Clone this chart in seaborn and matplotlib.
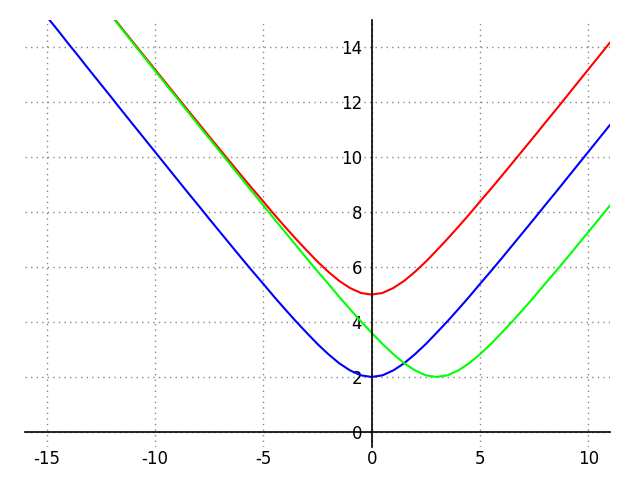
import seaborn as sns
import matplotlib
matplotlib.use("Agg")
import matplotlib.pyplot as plt
import pandas as pd

# x positions (step 0.5) and the three curves
x = [-15, -14.5, -14, -13.5, -13, -12.5, -12, -11.5, -11, -10.5, -10, -9.5, -9, -8.5,
     -8, -7.5, -7, -6.5, -6, -5.5, -5, -4.5, -4, -3.5, -3, -2.5, -2, -1.5, -1, -0.5,
     0, 0.5, 1, 1.5, 2, 2.5, 3, 3.5, 4, 4.5, 5, 5.5, 6, 6.5, 7, 7.5, 8, 8.5, 9, 9.5,
     10, 10.5, 11]

blue = [15.13, 14.64, 14.14, 13.65, 13.15, 12.66, 12.17, 11.67, 11.18, 10.69, 10.20,
        9.71, 9.22, 8.73, 8.25, 7.76, 7.28, 6.80, 6.32, 5.85, 5.39, 4.92, 4.47, 4.03,
        3.61, 3.20, 2.83, 2.50, 2.24, 2.06, 2.00, 2.06, 2.24, 2.50, 2.83, 3.20, 3.61,
        4.03, 4.47, 4.92, 5.39, 5.85, 6.32, 6.80, 7.28, 7.76, 8.25, 8.73, 9.22, 9.71,
        10.20, 10.69, 11.18]

red = [18.13, 17.64, 17.14, 16.65, 16.15, 15.66, 15.17, 14.67, 14.18, 13.69, 13.20,
       12.71, 12.22, 11.73, 11.25, 10.76, 10.28, 9.80, 9.32, 8.85, 8.39, 7.92, 7.47, 7.03,
       6.61, 6.20, 5.83, 5.50, 5.24, 5.06, 5.00, 5.06, 5.24, 5.50, 5.83, 6.20, 6.61,
       7.03, 7.47, 7.92, 8.39, 8.85, 9.32, 9.80, 10.28, 10.76, 11.25, 11.73, 12.22, 12.71,
       13.20, 13.69, 14.18]

green = [18.11, 17.61, 17.12, 16.62, 16.12, 15.63, 15.13, 14.64, 14.14, 13.65, 13.15,
         12.66, 12.17, 11.67, 11.18, 10.69, 10.20, 9.71, 9.22, 8.73, 8.25, 7.76, 7.28,
         6.80, 6.32, 5.85, 5.39, 4.92, 4.47, 4.03, 3.61, 3.20, 2.83, 2.50, 2.24, 2.06,
         2.00, 2.06, 2.24, 2.50, 2.83, 3.20, 3.61, 4.03, 4.47, 4.92, 5.39, 5.85, 6.32,
         6.80, 7.28, 7.76, 8.25]

xticks = [-15, -10, -5, 0, 5, 10]
yticks = [0, 2, 4, 6, 8, 10, 12, 14]

sns.set_style("white")
plt.rcParams['font.family'] = ['DejaVu Sans']

df = pd.DataFrame({"x": x, "blue": blue, "red": red, "green": green})

fig = plt.figure(figsize=(6.4, 4.8), dpi=100)
ax = fig.add_axes([25 / 640, 1 - 447 / 480, 585 / 640, 427 / 480])

sns.lineplot(data=df, x="x", y="blue", color="#0000ff", lw=1.5, ax=ax)
sns.lineplot(data=df, x="x", y="red", color="#ff0000", lw=1.5, ax=ax)
sns.lineplot(data=df, x="x", y="green", color="#00ff00", lw=1.5, ax=ax)

ax.set_xlim(-16, 11)
ax.set_ylim(-0.55, 15)
ax.set_xlabel("")
ax.set_ylabel("")

ax.spines['left'].set_position(('data', 0))
ax.spines['bottom'].set_position(('data', 0))
ax.spines['top'].set_visible(False)
ax.spines['right'].set_visible(False)
for s in ('left', 'bottom'):
    ax.spines[s].set_color('black')
    ax.spines[s].set_linewidth(1.2)

ax.set_xticks(xticks)
ax.set_yticks(yticks)
ax.set_xticklabels([str(v) for v in xticks])
ax.set_yticklabels([str(v) for v in yticks])
ax.tick_params(axis='both', direction='inout', length=12, width=0.9,
               colors='black', labelsize=12)
ax.tick_params(axis='x', pad=7)
ax.tick_params(axis='y', pad=1)

ax.grid(True, linestyle=(0, (1, 3)), color='#888888', linewidth=1.0)
ax.set_axisbelow(True)

fig.savefig("out.png", dpi=100)
